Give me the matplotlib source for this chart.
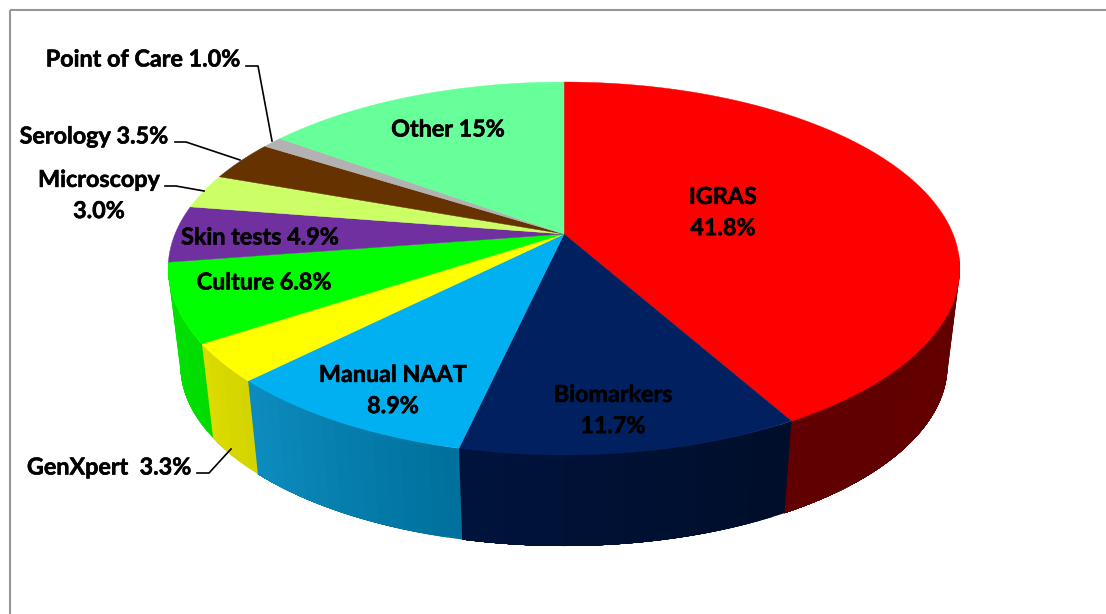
import numpy as np
import matplotlib
matplotlib.use("Agg")
import matplotlib.pyplot as plt
import matplotlib.patheffects as pe
from matplotlib.colors import to_rgb
from matplotlib.patches import Polygon, Rectangle

categories = ["IGRAS", "Biomarkers", "Manual NAAT", "GenXpert", "Culture",
              "Skin tests", "Microscopy", "Serology", "Point of Care", "Other"]
shares = [41.8, 11.7, 8.9, 3.3, 6.8, 4.9, 3.0, 3.5, 1.0, 15.0]
top_colors = ["#FF0000", "#002060", "#00B0F0", "#FFFF00", "#00FF00",
              "#7030A0", "#CCFF66", "#663300", "#B2B2B2", "#66FF99"]
side_from = ["#640000", "#000E2A", "#00709C", "#D4D400", "#00DC00",
             "#5C2888", "#AAD855", "#552A00", "#959595", "#55D880"]
side_to = ["#600000", "#00133C", "#0C8CBE", "#DCDC00", "#00E400",
           "#5C2888", "#AAD855", "#552A00", "#959595", "#55D880"]

plt.rcParams["font.family"] = ["Lato", "DejaVu Sans"]

# perspective of the disc, in pixels
CX, C = 564, 0.185
TOP_R, TOP_Y, TOP_A = 389, 234, -136.8
BOT_R, BOT_Y, BOT_A = 377, 331.5, -113.5


def rim(frac, r, y0, a):
    ang = 2 * np.pi * np.asarray(frac)
    u, v = np.sin(ang), np.cos(ang)
    w = 1 + C * v
    return CX + r * u / w, (y0 + a * v) / w


fig = plt.figure(figsize=(11.06, 6.14), dpi=100)
ax = fig.add_axes([0, 0, 1, 1])
ax.set_xlim(0, 1106)
ax.set_ylim(614, 0)
ax.axis("off")

ax.add_patch(Rectangle((10, 10), 1200, 700, fill=False, ec="#969696", lw=1.5))

edges = np.concatenate([[0], np.cumsum(shares)]) / sum(shares)

# side wall, only the part facing us. each strip runs on to the slice end so
# the next one paints over it and no seams show
for i in range(len(shares)):
    # slices on the back left never show their wall
    if edges[i] > 0.5 and np.cos(2 * np.pi * edges[i + 1]) > -0.1:
        continue
    n = max(int(shares[i] * 2), 3)
    fr = np.linspace(edges[i], edges[i + 1], n + 1)
    fr = fr[np.cos(2 * np.pi * fr) < -0.1]
    c0, c1 = np.array(to_rgb(side_from[i])), np.array(to_rgb(side_to[i]))
    for j in range(len(fr) - 1):
        f2 = np.linspace(fr[j], fr[-1], 40)
        xt, yt = rim(f2, TOP_R, TOP_Y, TOP_A)
        xb, yb = rim(f2, BOT_R, BOT_Y, BOT_A)
        col = c0 + (c1 - c0) * j / max(len(fr) - 2, 1)
        pts = np.column_stack([np.r_[xt, xb[::-1]], np.r_[yt, yb[::-1]]])
        ax.add_patch(Polygon(pts, fc=col, ec="none"))

# top face
for i in range(len(shares)):
    fr = np.linspace(edges[i], edges[i + 1], max(int(shares[i] * 6), 8))
    x, y = rim(fr, TOP_R, TOP_Y, TOP_A)
    pts = np.column_stack([np.r_[CX, x], np.r_[TOP_Y, y]])
    ax.add_patch(Polygon(pts, fc=top_colors[i], ec=top_colors[i], lw=0.3))

# labels
label_kw = dict(fontsize=16.8, fontweight="bold", color="black", ha="center", va="center", linespacing=1.6,
                path_effects=[pe.withStroke(linewidth=0.4, foreground="black")])
ax.text(723, 213, "IGRAS\n41.8%", **label_kw)
ax.text(613, 411, "Biomarkers\n11.7%", **label_kw)
ax.text(393, 391, "Manual NAAT\n8.9%", **label_kw)
ax.text(109, 468, "GenXpert  3.3%", **label_kw)
ax.text(264, 283, "Culture 6.8%", **label_kw)
ax.text(260, 238, "Skin tests 4.9%", **label_kw)
ax.text(99, 196, "Microscopy\n3.0%", **label_kw)
ax.text(94, 137, "Serology 3.5%", **label_kw)
ax.text(143, 60, "Point of Care 1.0%", **label_kw)
ax.text(448, 130, "Other 15%", **label_kw)

# leader lines
ax.plot([246, 258, 272], [66, 66, 141], color="black", lw=1.2)
ax.plot([175, 186, 240], [142, 142, 160], color="black", lw=1.2)
ax.plot([165, 176, 204], [186, 186, 191], color="black", lw=1.2)
ax.plot([197, 209, 231], [473, 473, 449], color="black", lw=1.2)

fig.savefig("out.png", dpi=100)
